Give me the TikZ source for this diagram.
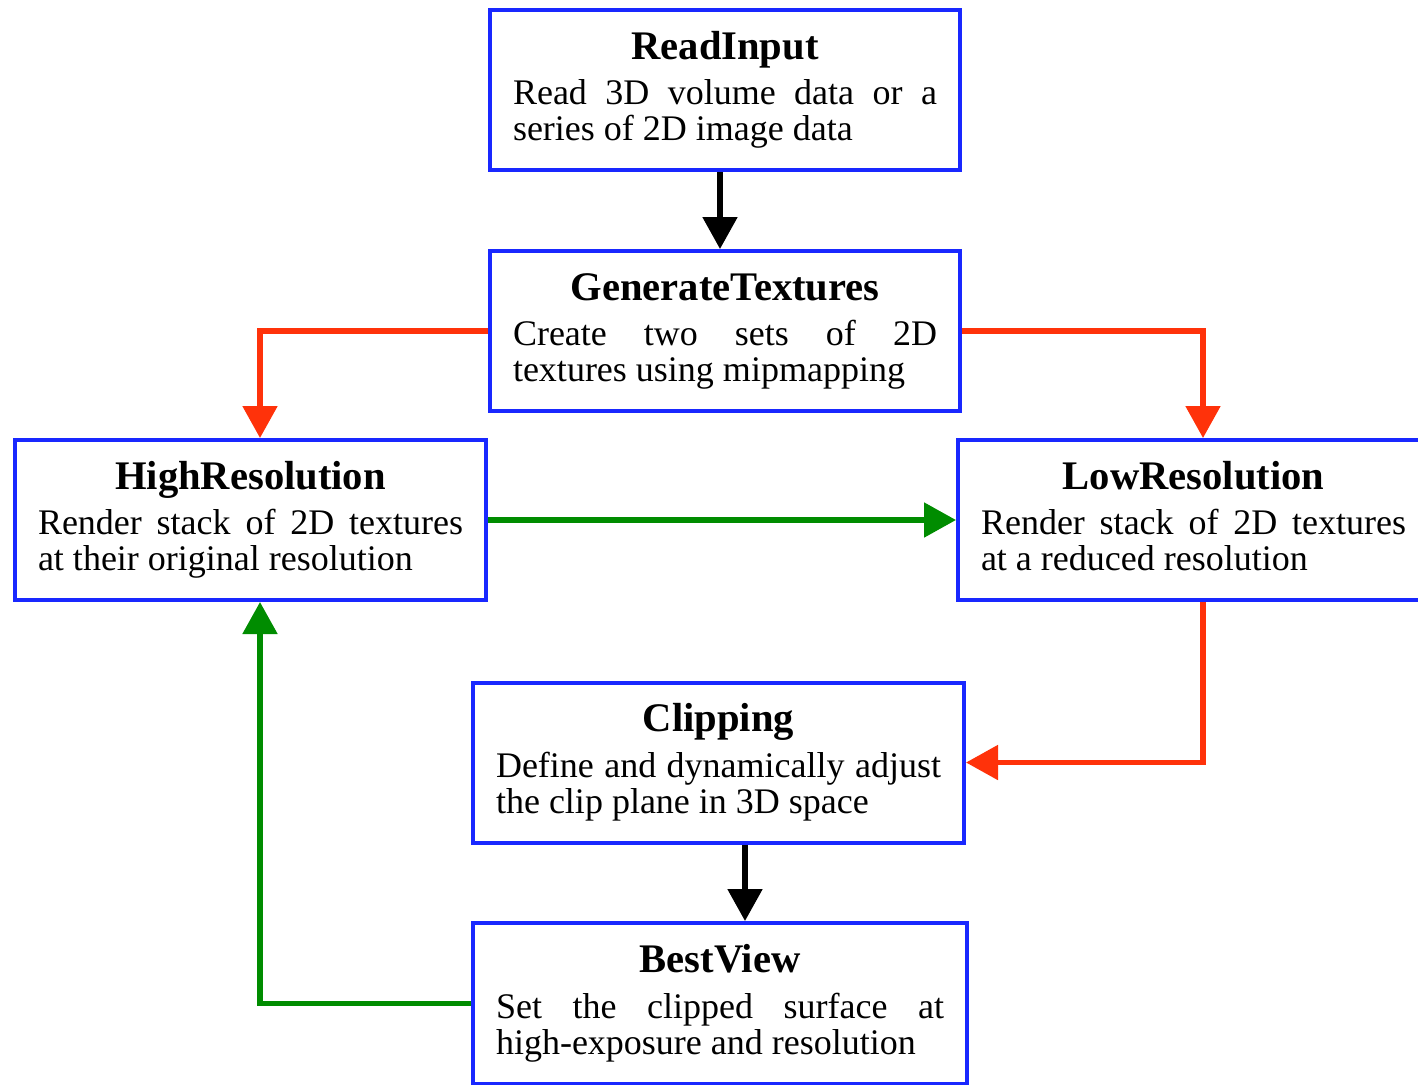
\documentclass[tikz,border=0pt]{standalone}
\usepackage{fontspec}
\setmainfont{Liberation Serif}
\usetikzlibrary{arrows.meta,calc}
\definecolor{boxblue}{RGB}{25,40,255}
\definecolor{arrred}{RGB}{255,50,10}
\definecolor{arrgreen}{RGB}{0,140,0}
\newcommand{\boxtxt}[2]{{\centering\fontsize{20.3}{22}\selectfont\bfseries\strut #1\par}\vskip2.5pt{\fontsize{18}{18}\selectfont #2\strut\par}}
\tikzset{
  fbox/.style={draw=boxblue, line width=2pt, fill=white, align=justify, inner xsep=11.5pt, inner ysep=0pt, minimum height=80pt},
  conn/.style={line width=2.6pt, -{Triangle[length=16pt,width=17pt]}},
  blkarrow/.style={conn, black},
  redarrow/.style={conn, arrred},
  greenarrow/.style={conn, arrgreen}
}
\begin{document}
\begin{tikzpicture}[x=0.5pt,y=-0.5pt]
\useasboundingbox (0,0) rectangle (1418,1084);
\fill[white] (0,0) rectangle (1418,1084);
\node[fbox, text width=212pt] (read) at (725,90)
  {\boxtxt{ReadInput}{Read 3D volume data or a\linebreak series of 2D image data}};
\node[fbox, text width=212pt] (gen) at (725,331)
  {\boxtxt{GenerateTextures}{Create two sets of 2D\linebreak textures using mipmapping}};
\node[fbox, text width=212.5pt] (high) at (250.5,520)
  {\boxtxt{HighResolution}{Render stack of 2D textures\linebreak at their original resolution}};
\node[fbox, text width=212.5pt] (low) at (1193.5,520)
  {\boxtxt{LowResolution}{Render stack of 2D textures\linebreak at a reduced resolution}};
\node[fbox, text width=222.5pt] (clip) at (718.5,762.5)
  {\boxtxt{Clipping}{Define and dynamically adjust\linebreak the clip plane in 3D space}};
\node[fbox, text width=224pt, minimum height=80.5pt] (best) at (720,1003.5)
  {\boxtxt{BestView}{Set the clipped surface at\linebreak high-exposure and resolution}};
\draw[blkarrow] ($(read.south)+(-5,0)$) -- ($(gen.north)+(-5,0)$);
\draw[redarrow] (gen.west) -| ($(high.north)+(9.5,0)$);
\draw[redarrow] (gen.east) -| ($(low.north)+(9.5,0)$);
\draw[greenarrow] (high.east) -- (low.west);
\draw[redarrow] ($(low.south)+(9.5,0)$) |- (clip.east);
\draw[blkarrow] ($(clip.south)+(26.5,0)$) -- ($(best.north)+(25,0)$);
\draw[greenarrow] (best.west) -| ($(high.south)+(9.5,0)$);
\end{tikzpicture}
\end{document}
